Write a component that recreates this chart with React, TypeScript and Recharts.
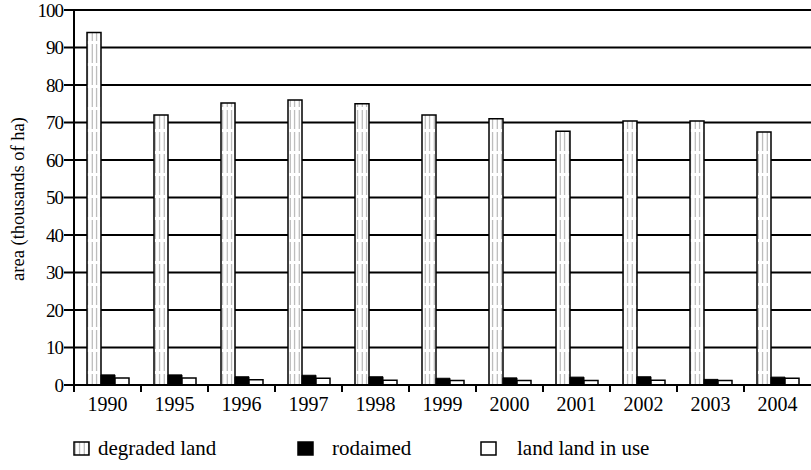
import { BarChart, Bar, XAxis, YAxis, CartesianGrid } from 'recharts';

const years = ['1990', '1995', '1996', '1997', '1998', '1999', '2000', '2001', '2002', '2003', '2004'];
const degraded = [94, 72, 75.2, 76, 75, 72, 71, 67.7, 70.4, 70.4, 67.5];
const reclaimed = [2.7, 2.7, 2.2, 2.6, 2.2, 1.8, 1.9, 2.1, 2.2, 1.5, 2.1];
const inUse = [1.9, 1.9, 1.4, 1.8, 1.3, 1.2, 1.2, 1.2, 1.3, 1.2, 1.8];
const yTicks = [0, 10, 20, 30, 40, 50, 60, 70, 80, 90, 100];
const seriesNames = ['degraded land', 'rodaimed', 'land land in use'];

const data = years.map((y, i) => ({
  year: y,
  degraded: degraded[i],
  reclaimed: reclaimed[i],
  inUse: inUse[i],
}));

const FONT = 'Liberation Serif, Times New Roman, DejaVu Serif, serif';

const XTick = ({ x, y, payload }: any) => {
  const half = payload && payload.offset ? payload.offset : 33.5;
  return (
    <g>
      <line x1={x - half} x2={x - half} y1={y} y2={y + 7} stroke="#000" strokeWidth={2} />
      <text x={x} y={y + 12} dy="0.71em" textAnchor="middle" fontSize={20} fontFamily={FONT} fill="#000">
        {payload.value}
      </text>
    </g>
  );
};

const YLabel = () => (
  <text
    x={20}
    y={199}
    transform="rotate(-90 20 199)"
    textAnchor="middle"
    dominantBaseline="middle"
    fontSize={18.5}
    fontFamily={FONT}
    fill="#000"
  >
    area (thousands of ha)
  </text>
);

function LegendIcon({ kind }: { kind: number }) {
  const fill = kind === 0 ? 'url(#vlines)' : kind === 1 ? '#000' : '#fff';
  return (
    <svg width={17} height={15} style={{ display: 'block' }}>
      <rect x={1} y={1} width={15} height={13} fill={fill} stroke="#000" strokeWidth={1.5} />
    </svg>
  );
}

const legendPos = [
  { icon: 73, text: 98 },
  { icon: 297, text: 332 },
  { icon: 480, text: 517 },
];

export default function App() {
  return (
    <div style={{ position: 'absolute', left: 0, top: 0, width: 811, height: 470, background: '#fff', fontFamily: FONT }}>
      <svg width={0} height={0} style={{ position: 'absolute' }}>
        <defs>
          <pattern id="vlines" patternUnits="userSpaceOnUse" width={4.5} height={22}>
            <rect width={4.5} height={22} fill="#fff" />
            <line x1={2.2} x2={2.2} y1={0} y2={19} stroke="#a8a8a8" strokeWidth={1} />
          </pattern>
        </defs>
      </svg>
      <BarChart
        width={811}
        height={470}
        data={data}
        margin={{ top: 10, right: 0, left: 0, bottom: 55 }}
        barCategoryGap={13}
        barGap={0}
        style={{ fontFamily: FONT }}
      >
        <CartesianGrid vertical={false} stroke="#000" strokeWidth={2} />
        <XAxis
          dataKey="year"
          height={30}
          tickLine={false}
          tickSize={0}
          tickMargin={0}
          axisLine={{ stroke: '#000', strokeWidth: 2 }}
          tick={<XTick />}
          interval={0}
        />
        <YAxis
          width={74}
          domain={[0, 100]}
          ticks={yTicks}
          interval={0}
          tickSize={10}
          tickMargin={1}
          axisLine={{ stroke: '#000', strokeWidth: 2 }}
          tickLine={{ stroke: '#000', strokeWidth: 2 }}
          tick={{ fill: '#000', fontSize: 19, fontFamily: FONT, letterSpacing: -1 }}
          label={<YLabel />}
        />
        <Bar dataKey="degraded" name={seriesNames[0]} fill="url(#vlines)" stroke="#000" strokeWidth={1.5} isAnimationActive={false} />
        <Bar dataKey="reclaimed" name={seriesNames[1]} fill="#000" stroke="#000" strokeWidth={1} isAnimationActive={false} />
        <Bar dataKey="inUse" name={seriesNames[2]} fill="#fff" stroke="#000" strokeWidth={1.5} isAnimationActive={false} />
      </BarChart>
      {seriesNames.map((name, i) => (
        <div key={name}>
          <div style={{ position: 'absolute', left: legendPos[i].icon, top: 441 }}>
            <LegendIcon kind={i} />
          </div>
          <div
            style={{
              position: 'absolute',
              left: legendPos[i].text,
              top: 436,
              fontSize: 21,
              fontFamily: FONT,
              lineHeight: '24px',
              color: '#000',
              whiteSpace: 'nowrap',
            }}
          >
            {name}
          </div>
        </div>
      ))}
    </div>
  );
}
